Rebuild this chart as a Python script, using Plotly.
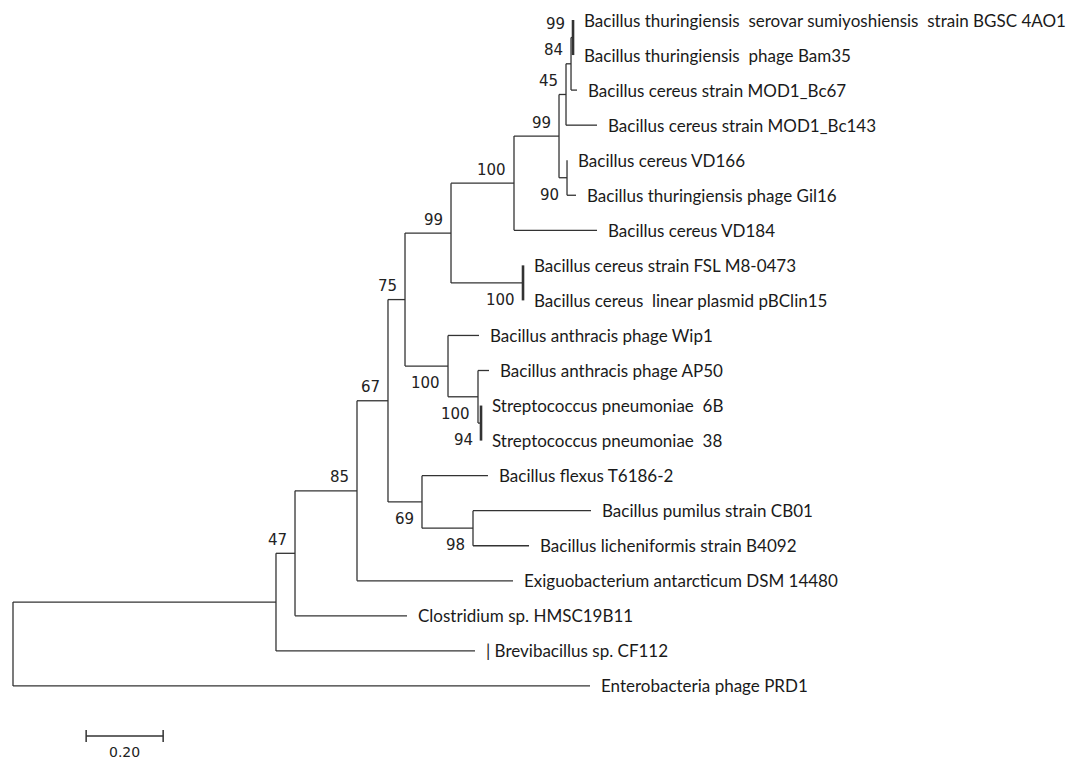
import plotly.graph_objects as go

# Tip names, top to bottom
taxa = [
    "Bacillus thuringiensis\u00a0 serovar sumiyoshiensis\u00a0 strain BGSC 4AO1",
    "Bacillus thuringiensis\u00a0 phage Bam35",
    "Bacillus cereus strain MOD1_Bc67",
    "Bacillus cereus strain MOD1_Bc143",
    "Bacillus cereus VD166",
    "Bacillus thuringiensis phage Gil16",
    "Bacillus cereus VD184",
    "Bacillus cereus strain FSL M8-0473",
    "Bacillus cereus\u00a0 linear plasmid pBClin15",
    "Bacillus anthracis phage Wip1",
    "Bacillus anthracis phage AP50",
    "Streptococcus pneumoniae\u00a0 6B",
    "Streptococcus pneumoniae\u00a0 38",
    "Bacillus flexus T6186-2",
    "Bacillus pumilus strain CB01",
    "Bacillus licheniformis strain B4092",
    "Exiguobacterium antarcticum DSM 14480",
    "Clostridium sp. HMSC19B11",
    "| Brevibacillus sp. CF112",
    "Enterobacteria phage PRD1",
]

# Internal nodes: name -> (children, branch lengths to children, bootstrap)
# Children are tip indices (int) or node names (str).
nodes = {
    "root": (["A", 19], [0.6831, 1.4987], None),
    "A": (["B", 18], [0.0494, 0.5169], None),
    "B": (["C", 17], [0.1610, 0.2909], 47),
    "C": (["D", 16], [0.0805, 0.4052], 85),
    "D": (["E", "F"], [0.0442, 0.0883], 67),
    "E": (["G", "H"], [0.1195, 0.1117], 75),
    "G": (["I", "J"], [0.1636, 0.1870], 99),
    "I": (["K", 6], [0.1169, 0.2156], 100),
    "K": (["L", "M"], [0.0182, 0.0208], 99),
    "L": (["N", 3], [0.0130, 0.0805], 45),
    "N": (["O", 2], [0.0052, 0.0156], 84),
    "O": ([0, 1], [0.0, 0.0], 99),
    "M": ([4, 5], [0.0, 0.0234], 90),
    "J": ([7, 8], [0.0, 0.0], 100),
    "H": ([9, "P"], [0.0805, 0.0779], 100),
    "P": ([10, "S"], [0.0286, 0.0078], 100),
    "S": ([11, 12], [0.0, 0.0], 94),
    "F": ([13, "Q"], [0.1714, 0.1325], 69),
    "Q": ([14, 15], [0.3065, 0.1455], 98),
}

scale_length = 0.20
scale_label = "0.20"

# Layout of the tree: depth from branch lengths, height from tip order
pos = {}


def place(name, depth):
    children, lengths, _ = nodes[name]
    ys = []
    for child, bl in zip(children, lengths):
        d = depth + bl
        if isinstance(child, int):
            pos[("tip", child)] = (d, float(child))
            ys.append(float(child))
        else:
            ys.append(place(child, d))
    y = sum(ys) / len(ys)
    pos[name] = (depth, y)
    return y


place("root", 0.0)

line_color = "#333333"
thin_x, thin_y = [], []
thick_x, thick_y = [], []
annotations = []

for name, (children, lengths, boot) in nodes.items():
    x0, y0 = pos[name]
    child_pos = [pos[("tip", c)] if isinstance(c, int) else pos[c] for c in children]
    ys = [p[1] for p in child_pos]
    # vertical connector
    if all(bl == 0 for bl in lengths):
        thick_x += [x0, x0, None]
        thick_y += [min(ys), max(ys), None]
    else:
        thin_x += [x0, x0, None]
        thin_y += [min(ys), max(ys), None]
    # horizontal branches
    for (cx, cy), bl in zip(child_pos, lengths):
        if bl > 0:
            thin_x += [x0, cx, None]
            thin_y += [cy, cy, None]

# bootstrap labels: above the incoming branch for upper children, below for lower
parent_of = {}
for name, (children, lengths, boot) in nodes.items():
    for k, c in enumerate(children):
        if isinstance(c, str):
            parent_of[c] = (name, k)

for name, (children, lengths, boot) in nodes.items():
    if boot is None:
        continue
    x, y = pos[name]
    par, k = parent_of[name]
    upper = k == 0
    annotations.append(dict(
        x=x, y=y, xref="x", yref="y", text=str(boot), showarrow=False,
        xanchor="right", yanchor="middle", xshift=-6,
        yshift=13.5 if upper else -17,
        font=dict(family="DejaVu Sans", size=15, color="#222222"),
    ))

# tip labels
for i, name in enumerate(taxa):
    x, y = pos[("tip", i)]
    annotations.append(dict(
        x=x, y=y, xref="x", yref="y", text=name, showarrow=False,
        xanchor="left", yanchor="middle", xshift=9,
        font=dict(family="Lato", size=17, color="#1a1a1a"),
    ))

# scale bar
sb_x0 = 0.19
sb_y = 20.43
sb_x = [sb_x0, sb_x0 + scale_length, None, sb_x0, sb_x0, None,
        sb_x0 + scale_length, sb_x0 + scale_length, None]
sb_yv = [sb_y, sb_y, None, sb_y - 0.17, sb_y + 0.17, None,
         sb_y - 0.17, sb_y + 0.17, None]
annotations.append(dict(
    x=sb_x0 + scale_length / 2, y=sb_y, xref="x", yref="y", text=scale_label,
    showarrow=False, xanchor="center", yanchor="middle", yshift=-16,
    font=dict(family="DejaVu Sans", size=14, color="#222222"),
))

fig = go.Figure()
fig.add_trace(go.Scatter(x=thin_x, y=thin_y, mode="lines",
                         line=dict(color=line_color, width=1.3),
                         hoverinfo="skip", showlegend=False))
fig.add_trace(go.Scatter(x=thick_x, y=thick_y, mode="lines",
                         line=dict(color=line_color, width=2.6),
                         hoverinfo="skip", showlegend=False))
fig.add_trace(go.Scatter(x=sb_x, y=sb_yv, mode="lines",
                         line=dict(color=line_color, width=1.5),
                         hoverinfo="skip", showlegend=False))

fig.update_layout(
    width=1083, height=760,
    margin=dict(l=0, r=0, t=0, b=0),
    paper_bgcolor="white", plot_bgcolor="white",
    xaxis=dict(range=[-13 / 385, 1070 / 385], visible=False, fixedrange=True),
    yaxis=dict(range=[740 / 35.05, -20 / 35.05], visible=False, fixedrange=True),
    annotations=annotations,
)

fig.write_html("out.html")
